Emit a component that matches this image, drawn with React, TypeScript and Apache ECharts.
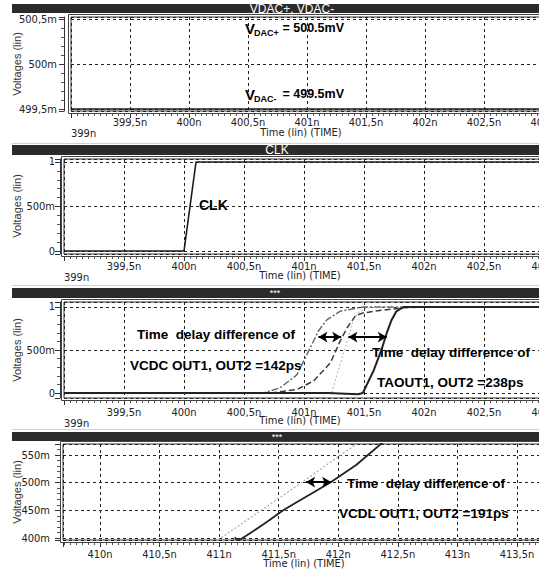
import React, { useEffect, useRef } from "react";
import * as echarts from "echarts";

// ---------- tick labels ----------
const xTicksMain = [399, 399.5, 400, 400.5, 401, 401.5, 402, 402.5, 403];
const xTicksVcdl = [410, 410.5, 411, 411.5, 412, 412.5, 413, 413.5];
const yTicksVdac = [499.5, 500, 500.5];
const yTicksLogic = [0, 0.5, 1];
const yTicksVcdl = [400, 450, 500, 550];

const panelTitles = ["VDAC+, VDAC-", "CLK", "***", "***"];

// ---------- panel 1: VDAC (mV vs ns) ----------
const vdacTimes = [399, 403];
const vdacMinusValues = [499.5, 499.5];

// ---------- panel 2: CLK (V vs ns) ----------
const clkTimes = [399, 400, 400.1, 403];
const clkValues = [0, 0, 1, 1];

// ---------- panel 3: VCDC / TA outputs (V vs ns) ----------
const vcdcOut1Times = [399, 400.66, 400.8, 400.94, 401.05, 401.12, 401.19, 401.3, 401.49, 403];
const vcdcOut1Values = [0, 0, 0.06, 0.21, 0.52, 0.72, 0.85, 0.95, 1, 1];
const vcdcOut2Times = [399, 400.72, 400.94, 401.08, 401.22, 401.3, 401.36, 401.43, 401.49, 401.63, 401.83, 401.97, 403];
const vcdcOut2Values = [0, 0, 0.04, 0.14, 0.35, 0.6, 0.76, 0.9, 0.93, 0.96, 0.99, 1, 1];
const taOut1Times = [399, 401.23, 401.3, 401.36, 401.41, 401.45, 401.52, 401.63, 403];
const taOut1Values = [0, 0, 0.33, 0.6, 0.84, 0.93, 0.99, 1, 1];
const taOut2Times = [399, 401.2, 401.45, 401.49, 401.58, 401.65, 401.69, 401.73, 401.77, 401.83, 401.86, 403];
const taOut2Values = [0, 0, -0.015, 0, 0.26, 0.52, 0.7, 0.85, 0.95, 1, 1, 1];

// ---------- panel 4: VCDL outputs (mV vs ns) ----------
const vcdlOut1Times = [410.99, 411.59, 412.18];
const vcdlOut1Values = [396.4, 484.9, 574];
const vcdlOut2Times = [411.13, 411.16, 411.25, 411.4, 411.54, 411.93, 412.15, 412.38];
const vcdlOut2Values = [401.3, 395.1, 407.2, 428.9, 450.6, 499.9, 531.9, 574];

// ---------- delay arrows ----------
const vcdcArrowTimes = [401.12, 401.31];
const vcdcArrowLevel = 0.65;
const taArrowTimes = [401.37, 401.69];
const taArrowLevel = 0.65;
const vcdlArrowTimes = [411.73, 411.94];
const vcdlArrowLevel = 501;

const FONT_AX = "'Liberation Sans Narrow', 'DejaVu Sans Condensed', 'Liberation Sans', Arial, sans-serif";
const FONT_TXT = "'Liberation Sans', Arial, sans-serif";

const layout = [
  { left: 71, top: 17, width: 472, height: 94, xMin: 399, xMax: 403, yMin: 499.478, yMax: 500.528, ySplit: 2, yOff: 7, yMargin: 7, xMargin: 3.5, barY: 4, barH: 9, titleX: 292, titleSize: 12, nameY: 64, timeX: 301, timeY: 132 },
  { left: 64, top: 159, width: 480, height: 95, xMin: 399, xMax: 403, yMin: -0.0337, yMax: 1.0337, ySplit: 2, yOff: 4, yMargin: 5, xMargin: 4.5, barY: 145, barH: 10, titleX: 277, titleSize: 12, nameY: 206, timeX: 300, timeY: 275 },
  { left: 64, top: 302, width: 480, height: 96, xMin: 399, xMax: 403, yMin: -0.058, yMax: 1.058, ySplit: 2, yOff: 4, yMargin: 5, xMargin: 6.5, barY: 288, barH: 10, titleX: 275, titleSize: 9, nameY: 350, timeX: 300, timeY: 420 },
  { left: 63, top: 444, width: 497, height: 96, xMin: 409.6894, xMax: 413.861, yMin: 396.39, yMax: 569.88, ySplit: 3, yOff: 3, yMargin: 10, xMargin: 7, barY: 432, barH: 9, titleX: 277, titleSize: 9, nameY: 492, timeX: 304, timeY: 563 },
];

const zip = (ts: number[], vs: number[]) => ts.map((t, i) => [t, vs[i]]);
const fmtNum = (v: number) => String(Number(v.toFixed(3))).replace(".", ",");

const xFormatter = (first: number) => (v: number) =>
  (Math.abs(v - first) < 1e-6 ? "\n" : "") + fmtNum(v) + "n";

const yFormatters = [
  (v: number) => fmtNum(v) + "m",
  (v: number) => (v === 0 ? "0" : v >= 1 ? fmtNum(v) : fmtNum(v * 1000) + "m"),
  (v: number) => (v === 0 ? "0" : v >= 1 ? fmtNum(v) : fmtNum(v * 1000) + "m"),
  (v: number) => fmtNum(v) + "m",
];
const yTickSets = [yTicksVdac, yTicksLogic, yTicksLogic, yTicksVcdl];

function buildOption() {
  const grid = layout.map((p) => ({
    left: p.left, top: p.top, width: p.width, height: p.height,
    show: true, borderColor: "#333", borderWidth: 1, backgroundColor: "transparent",
  }));

  const xAxis = layout.map((p, i) => ({
    type: "value", gridIndex: i, min: p.xMin, max: p.xMax,
    ...(i < 3 ? { interval: 0.5 } : { splitNumber: 8 }),
    offset: 2,
    axisLine: { show: true, onZero: false, lineStyle: { color: "#333", width: 1 } },
    axisTick: { show: true, length: 5, lineStyle: { color: "#333" } },
    minorTick: { show: true, splitNumber: 10, length: 3, lineStyle: { color: "#555" } },
    splitLine: { show: true, lineStyle: { color: "#222", width: 1, type: [3, 3] } },
    axisLabel: {
      show: true, customValues: i < 3 ? xTicksMain : xTicksVcdl,
      alignMinLabel: i < 3 ? "left" : undefined,
      fontFamily: FONT_AX, fontSize: 11, color: "#222", margin: p.xMargin, lineHeight: 11,
      formatter: xFormatter(i < 3 ? 399 : NaN),
    },
  }));

  const yAxis = layout.map((p, i) => ({
    type: "value", gridIndex: i, min: p.yMin, max: p.yMax, splitNumber: p.ySplit,
    offset: p.yOff,
    axisLine: { show: true, onZero: false, lineStyle: { color: "#333", width: 1 } },
    axisTick: { show: true, length: 5, lineStyle: { color: "#333" } },
    minorTick: { show: true, splitNumber: 5, length: 3, lineStyle: { color: "#555" } },
    splitLine: { show: true, lineStyle: { color: "#222", width: 1, type: [3, 3] } },
    axisLabel: {
      show: true, customValues: yTickSets[i], fontFamily: FONT_AX, fontSize: 11,
      color: "#222", margin: p.yMargin, formatter: yFormatters[i],
    },
  }));

  const line = (name: string, gi: number, data: number[][], color: string, width: number, type: any, extra: any = {}) => ({
    name, type: "line", xAxisIndex: gi, yAxisIndex: gi, data, showSymbol: false, symbol: "none",
    silent: true, clip: true, lineStyle: { color, width, type }, z: 3, ...extra,
  });

  const arrow = (t: number[], level: number) => ({
    silent: true, symbol: ["arrow", "arrow"], symbolSize: [8, 9],
    lineStyle: { color: "#000", width: 2, type: "solid" }, label: { show: false },
    emphasis: { disabled: true },
    data: [[{ coord: [t[0], level] }, { coord: [t[1], level] }]],
  });

  const series = [
    line("VDAC-", 0, zip(vdacTimes, vdacMinusValues), "#1a1a1a", 1.5, "solid"),
    line("CLK", 1, zip(clkTimes, clkValues), "#1a1a1a", 1.6, "solid"),
    line("VCDC OUT1", 2, zip(vcdcOut1Times, vcdcOut1Values), "#6a6a6a", 1.5, [7, 2, 2, 2]),
    line("VCDC OUT2", 2, zip(vcdcOut2Times, vcdcOut2Values), "#3a3a3a", 1.5, [6, 3], { markLine: arrow(vcdcArrowTimes, vcdcArrowLevel) }),
    line("TA OUT1", 2, zip(taOut1Times, taOut1Values), "#b0b0b0", 1, [2, 2]),
    line("TA OUT2", 2, zip(taOut2Times, taOut2Values), "#222", 2, "solid", { markLine: arrow(taArrowTimes, taArrowLevel) }),
    line("VCDL OUT1", 3, zip(vcdlOut1Times, vcdlOut1Values), "#aaaaaa", 1.2, [2, 2]),
    line("VCDL OUT2", 3, zip(vcdlOut2Times, vcdlOut2Values), "#222", 1.8, "solid", { markLine: arrow(vcdlArrowTimes, vcdlArrowLevel) }),
  ];

  const txt = (text: string, x: number, y: number, size: number, o: any = {}) => ({
    type: "text", x, y, silent: true, z: 100, rotation: o.rot || 0,
    style: {
      text, fill: o.fill || "#000", fontSize: size, fontWeight: o.bold ? "bold" : "normal",
      fontFamily: o.family || FONT_TXT,
      textAlign: o.align || "left", align: o.align || "left",
      textVerticalAlign: "middle", verticalAlign: "middle",
    },
  });

  const graphic: any[] = [];
  layout.forEach((p, i) => {
    graphic.push({ type: "rect", z: 90, silent: true, shape: { x: 12, y: p.barY, width: 560, height: p.barH }, style: { fill: "#2b2b2b" } });
    graphic.push(txt(panelTitles[i], p.titleX, p.barY + p.barH / 2, p.titleSize, { fill: "#fff", align: "center" }));
    graphic.push({ type: "rect", z: 50, silent: true, shape: { x: p.left - 2.5, y: p.top - 2.5, width: p.width + 30, height: p.height + 5 }, style: { fill: "none", stroke: "#444", lineWidth: 1 } });
    graphic.push(txt("Voltages (lin)", 17, p.nameY, 11, { align: "center", rot: Math.PI / 2, fill: "#333" }));
    graphic.push(txt("Time (lin) (TIME)", p.timeX, p.timeY, 11, { align: "center", family: FONT_AX, fill: "#222" }));
  });
  [143.5, 285.5, 429.5].forEach((y) =>
    graphic.push({ type: "line", silent: true, z: 40, shape: { x1: 12, y1: y, x2: 560, y2: y }, style: { stroke: "#d0d0d0", lineWidth: 1 } })
  );

  // Panel 1 annotations
  graphic.push(txt("V", 245, 28, 15, { bold: true }));
  graphic.push(txt("DAC+", 254, 33, 9, { bold: true }));
  graphic.push(txt("= 500.5mV", 344, 28, 12.5, { bold: true, align: "right" }));
  graphic.push(txt("V", 245, 94, 15, { bold: true }));
  graphic.push(txt("DAC-", 254, 99, 9, { bold: true }));
  graphic.push(txt("= 499.5mV", 344, 94, 12.5, { bold: true, align: "right" }));
  // Panel 2
  graphic.push(txt("CLK", 199, 205, 14, { bold: true }));
  // Panel 3
  graphic.push(txt("Time  delay difference of", 137, 334, 13.5, { bold: true }));
  graphic.push(txt("VCDC OUT1, OUT2 =142ps", 130, 365, 13.5, { bold: true }));
  graphic.push(txt("Time  delay difference of", 372, 352, 13.5, { bold: true }));
  graphic.push(txt("TAOUT1, OUT2 =238ps", 377, 382, 13.5, { bold: true }));
  // Panel 4
  graphic.push(txt("Time  delay difference of", 347, 483, 13.5, { bold: true }));
  graphic.push(txt("VCDL OUT1, OUT2 =191ps", 339, 513, 13.5, { bold: true }));

  return {
    animation: false,
    backgroundColor: "#fff",
    grid, xAxis, yAxis, series, graphic,
  };
}

export default function App() {
  const ref = useRef<HTMLDivElement>(null);
  useEffect(() => {
    if (!ref.current) return;
    const chart = echarts.init(ref.current, undefined, { renderer: "svg" });
    chart.setOption(buildOption() as any);
    return () => chart.dispose();
  }, []);
  return (
    <div style={{ position: "absolute", left: 0, top: 0, width: 539, height: 575, overflow: "hidden", background: "#fff" }}>
      <div ref={ref} style={{ width: 560, height: 575 }} />
    </div>
  );
}
